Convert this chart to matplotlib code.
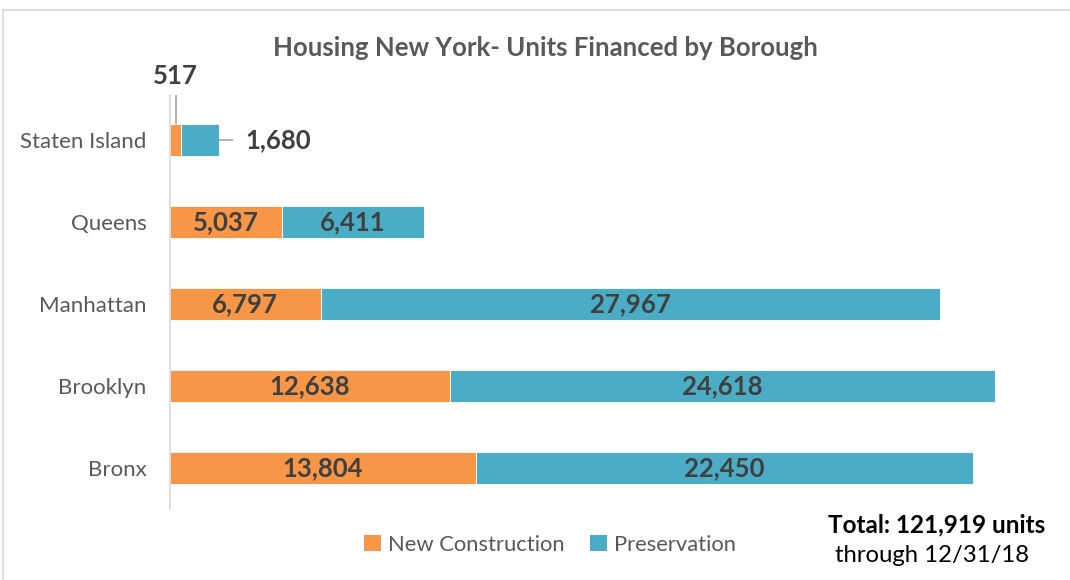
import matplotlib
matplotlib.use("Agg")
import matplotlib.pyplot as plt
from matplotlib.lines import Line2D
from matplotlib.patches import Patch

boroughs = ["Bronx", "Brooklyn", "Manhattan", "Queens", "Staten Island"]
new_construction = [13804, 12638, 6797, 5037, 517]
preservation = [22450, 24618, 27967, 6411, 1680]
series_names = ["New Construction", "Preservation"]
title = "Housing New York- Units Financed by Borough"
total_text = "Total: 121,919 units"
through_text = "through 12/31/18"

ORANGE = "#F79646"
BLUE = "#4BACC6"
FONT = ["Lato", "DejaVu Sans"]
plt.rcParams["font.family"] = FONT

W, H = 1070, 580
fig = plt.figure(figsize=(W / 100, H / 100), dpi=100)

# axes: x from 170 to 1056 px, y from 99 to 509 px
ax = fig.add_axes([170 / W, 1 - 509 / H, 886 / W, 410 / H])
ax.set_xlim(0, 40000)
ax.set_ylim(-0.5, len(boroughs) - 0.5)
px = 40000 / 886  # data units per pixel (x)
py = 5 / 410      # data units per pixel (y)

ypos = list(range(len(boroughs)))
bh = 0.39
ax.barh(ypos, new_construction, height=bh, color=ORANGE, edgecolor="white", linewidth=0.6)
ax.barh(ypos, preservation, left=new_construction, height=bh, color=BLUE, edgecolor="white", linewidth=0.6)

lab_kw = dict(fontsize=18.5, fontweight="bold", color="#404040", va="center", ha="center")
for i, (n, p) in enumerate(zip(new_construction, preservation)):
    if n > 3000:
        ax.text(n / 2, i, f"{n:,}", **lab_kw)
        ax.text(n + p / 2, i, f"{p:,}", **lab_kw)
    else:
        # outside labels with leader lines (Staten Island)
        ax.plot([n / 2, n / 2], [i + bh / 2, i + bh / 2 + 29 * py], color="#A6A6A6",
                lw=1.2, clip_on=False, solid_capstyle="butt")
        ax.text(n / 2, i + bh / 2 + 48 * py, f"{n:,}", clip_on=False, **lab_kw)
        ax.plot([n + p, n + p + 14 * px], [i, i], color="#A6A6A6", lw=1.2,
                clip_on=False, solid_capstyle="butt")
        ax.text(n + p + 59 * px, i, f"{p:,}", clip_on=False, **lab_kw)

ax.set_yticks(ypos)
ax.set_yticklabels(boroughs, fontsize=16, color="#595959")
ax.tick_params(axis="y", length=0, pad=17)
ax.set_xticks([])
for s in ["top", "right", "bottom"]:
    ax.spines[s].set_visible(False)
ax.spines["left"].set_color("#D9D9D9")
ax.spines["left"].set_linewidth(1.2)
ax.spines["left"].set_bounds(-0.5, 4.55)

fig.text(545 / W, 1 - 48 / H, title, ha="center", va="center", fontsize=18.5,
         fontweight="bold", color="#595959")

handles = [Patch(facecolor=ORANGE), Patch(facecolor=BLUE)]
fig.legend(handles, series_names, loc="center", bbox_to_anchor=(550 / W, 1 - 545 / H),
           ncol=2, frameon=False, fontsize=15.8, labelcolor="#595959",
           handlelength=0.75, handleheight=0.75, handletextpad=0.3, columnspacing=1.2)

fig.text(937 / W, 1 - 525 / H, total_text, ha="center", va="center", fontsize=17.5,
         fontweight="bold", color="black")
fig.text(932 / W, 1 - 556 / H, through_text, ha="center", va="center", fontsize=17.2,
         color="black")

# chart border (top and left visible)
fig.add_artist(Line2D([3 / W, 1], [1 - 10 / H, 1 - 10 / H], color="#D9D9D9", lw=1.2))
fig.add_artist(Line2D([3 / W, 3 / W], [0, 1 - 10 / H], color="#D9D9D9", lw=1.2))

fig.savefig("out.png", dpi=100)
